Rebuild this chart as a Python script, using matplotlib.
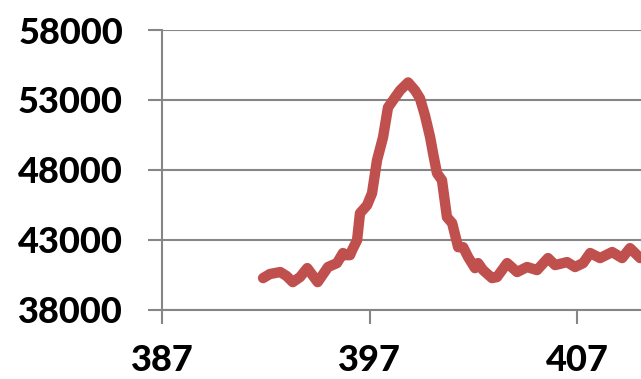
import matplotlib
matplotlib.use('Agg')
import matplotlib.pyplot as plt
import matplotlib.ticker as ticker

# ── Spectrum trace (wavelength, counts) ────────────────────────────────────
wavelength = [
    391.87, 392.2, 392.7, 393.0, 393.3, 393.65, 394.0, 394.5, 395.0, 395.43,
    395.72, 395.82, 396.06, 396.16, 396.4, 396.54, 396.88, 397.12, 397.36,
    397.65, 397.89, 398.23, 398.47, 398.86, 399.19, 399.43, 399.67, 399.92,
    400.06, 400.25, 400.49, 400.73, 400.98, 401.27, 401.51, 401.75, 402.08,
    402.23, 402.47, 402.9, 403.14, 403.63, 404.11, 404.59, 405.07, 405.6,
    405.94, 406.52, 406.9, 407.29, 407.63, 408.11, 408.69, 409.17, 409.55,
    410.04,
]
counts = [
    40250, 40540, 40680, 40400, 39960, 40320, 40960, 39960, 41040, 41320,
    42040, 41890, 41890, 42250, 42960, 44890, 45460, 46320, 48680,
    50320, 52460, 53180, 53680, 54250, 53680, 53110, 51890, 50320,
    49180, 47750, 47250, 44610, 44180, 42460, 42460, 41750, 40960,
    41320, 40820, 40250, 40320, 41320, 40680, 41040, 40820, 41680,
    41180, 41390, 41040, 41320, 42040, 41680, 42110, 41680, 42390,
    41680,
]

Y_TICKS = [38000, 43000, 48000, 53000, 58000]
X_TICKS = [387, 397, 407]

GRID = '#868686'
LINE = '#C0504D'

plt.rcParams['font.family'] = ['Lato', 'DejaVu Sans']

fig = plt.figure(figsize=(6.41, 3.79), dpi=100)
ax = fig.add_axes([162 / 641, 69.5 / 379, 1 - 162 / 641, 279.5 / 379])

ax.plot(wavelength, counts, color=LINE, linewidth=7.5,
        solid_capstyle='round', solid_joinstyle='round', zorder=3)

ax.set_xlim(387, 410.08)
ax.set_ylim(38000, 58000)
ax.yaxis.set_major_locator(ticker.FixedLocator(Y_TICKS))
ax.xaxis.set_major_locator(ticker.FixedLocator(X_TICKS))
ax.yaxis.set_major_formatter(ticker.FuncFormatter(lambda v, p: f"{int(v)}"))

ax.grid(axis='y', color=GRID, linewidth=1.5)
ax.set_axisbelow(True)

for side in ('top', 'right'):
    ax.spines[side].set_visible(False)
for side in ('left', 'bottom'):
    ax.spines[side].set_color(GRID)
    ax.spines[side].set_linewidth(1.5)

ax.tick_params(axis='y', direction='out', length=10, width=1.5, color=GRID,
               pad=18, labelsize=26)
ax.tick_params(axis='x', direction='out', length=10, width=1.5, color=GRID,
               pad=15, labelsize=26)
for lbl in ax.get_xticklabels() + ax.get_yticklabels():
    lbl.set_fontweight('black')

plt.savefig('out.png', dpi=100)
plt.close()
